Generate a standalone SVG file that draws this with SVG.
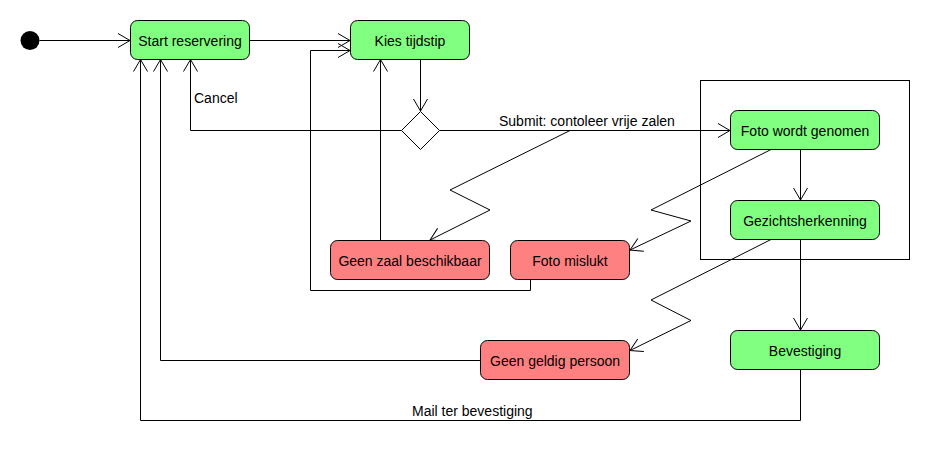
<svg xmlns="http://www.w3.org/2000/svg" width="930" height="460" viewBox="0 0 930 460">
<defs>
<marker id="arr" viewBox="0 0 12 14" refX="12" refY="7" markerWidth="12" markerHeight="14" markerUnits="userSpaceOnUse" orient="auto" overflow="visible">
<path d="M0,0 L12,7 L0,14" fill="none" stroke="#000" stroke-width="1"/>
</marker>
</defs>
<style>
.ok{fill:#80FF80;stroke:#000;stroke-width:1}
.err{fill:#FF8080;stroke:#000;stroke-width:1}
.t{font-family:"Liberation Sans",Arial,sans-serif;font-size:14px;fill:#000;text-anchor:middle}
.l{font-family:"Liberation Sans",Arial,sans-serif;font-size:14px;fill:#000}
.c{fill:none;stroke:#000;stroke-width:1}
</style>
<rect width="930" height="460" fill="#fff"/>
<g id="partition"><rect x="700.5" y="80.5" width="209" height="179" fill="none" stroke="#000"/></g>
<g id="connectors">
<path class="c" d="M39.5,40.5 H130" marker-end="url(#arr)"/>
<path class="c" d="M249.5,40.5 H350" marker-end="url(#arr)"/>
<path class="c" d="M530.5,279.5 V290.5 H310.5 V50.5 H350" marker-end="url(#arr)"/>
<path class="c" d="M380.5,240 V59.5" marker-end="url(#arr)"/>
<path class="c" d="M420.5,59.5 V111" marker-end="url(#arr)"/>
<path class="c" d="M401.5,130.5 H190.5 V59.5" marker-end="url(#arr)"/>
<path class="c" d="M439.5,130.5 H730" marker-end="url(#arr)"/>
<path class="c" d="M570,130.5 L450,190 L490,210 L430,240" marker-end="url(#arr)"/>
<path class="c" d="M771,149.5 L651,210 L691,221 L630,250" marker-end="url(#arr)"/>
<path class="c" d="M771,239.5 L651,300 L691,320.5 L630,350.5" marker-end="url(#arr)"/>
<path class="c" d="M800.5,149.5 V200" marker-end="url(#arr)"/>
<path class="c" d="M800.5,239.5 V330" marker-end="url(#arr)"/>
<path class="c" d="M480.5,360.5 H160.5 V59.5" marker-end="url(#arr)"/>
<path class="c" d="M800.5,369.5 V420.5 H140.5 V59.5" marker-end="url(#arr)"/>
<text class="l" x="194" y="103">Cancel</text>
<text class="l" x="499" y="125.5">Submit: contoleer vrije zalen</text>
<text class="l" x="412" y="416">Mail ter bevestiging</text>
</g>
<g id="start"><circle cx="30" cy="40.5" r="9.5" fill="#000"/></g>
<g id="decision"><polygon points="401.5,130.5 420.5,111.5 439.5,130.5 420.5,149.5" fill="#fff" stroke="#000"/></g>
<g id="start-reservering"><rect class="ok" x="130.5" y="20.5" width="119" height="39" rx="7"/><text class="t" x="190" y="45.5">Start reservering</text></g>
<g id="kies-tijdstip"><rect class="ok" x="350.5" y="20.5" width="119" height="39" rx="7"/><text class="t" x="410" y="45.5">Kies tijdstip</text></g>
<g id="foto-wordt-genomen"><rect class="ok" x="730.5" y="110.5" width="149" height="39" rx="7"/><text class="t" x="805" y="135.5">Foto wordt genomen</text></g>
<g id="gezichtsherkenning"><rect class="ok" x="730.5" y="200.5" width="149" height="39" rx="7"/><text class="t" x="805" y="225.5">Gezichtsherkenning</text></g>
<g id="bevestiging"><rect class="ok" x="730.5" y="330.5" width="149" height="39" rx="7"/><text class="t" x="805" y="355.5">Bevestiging</text></g>
<g id="geen-zaal"><rect class="err" x="330.5" y="240.5" width="159" height="39" rx="7"/><text class="t" x="410" y="265.5">Geen zaal beschikbaar</text></g>
<g id="foto-mislukt"><rect class="err" x="510.5" y="240.5" width="119" height="39" rx="7"/><text class="t" x="570" y="265.5">Foto mislukt</text></g>
<g id="geen-geldig-persoon"><rect class="err" x="480.5" y="340.5" width="149" height="39" rx="7"/><text class="t" x="555" y="365.5">Geen geldig persoon</text></g>
</svg>
